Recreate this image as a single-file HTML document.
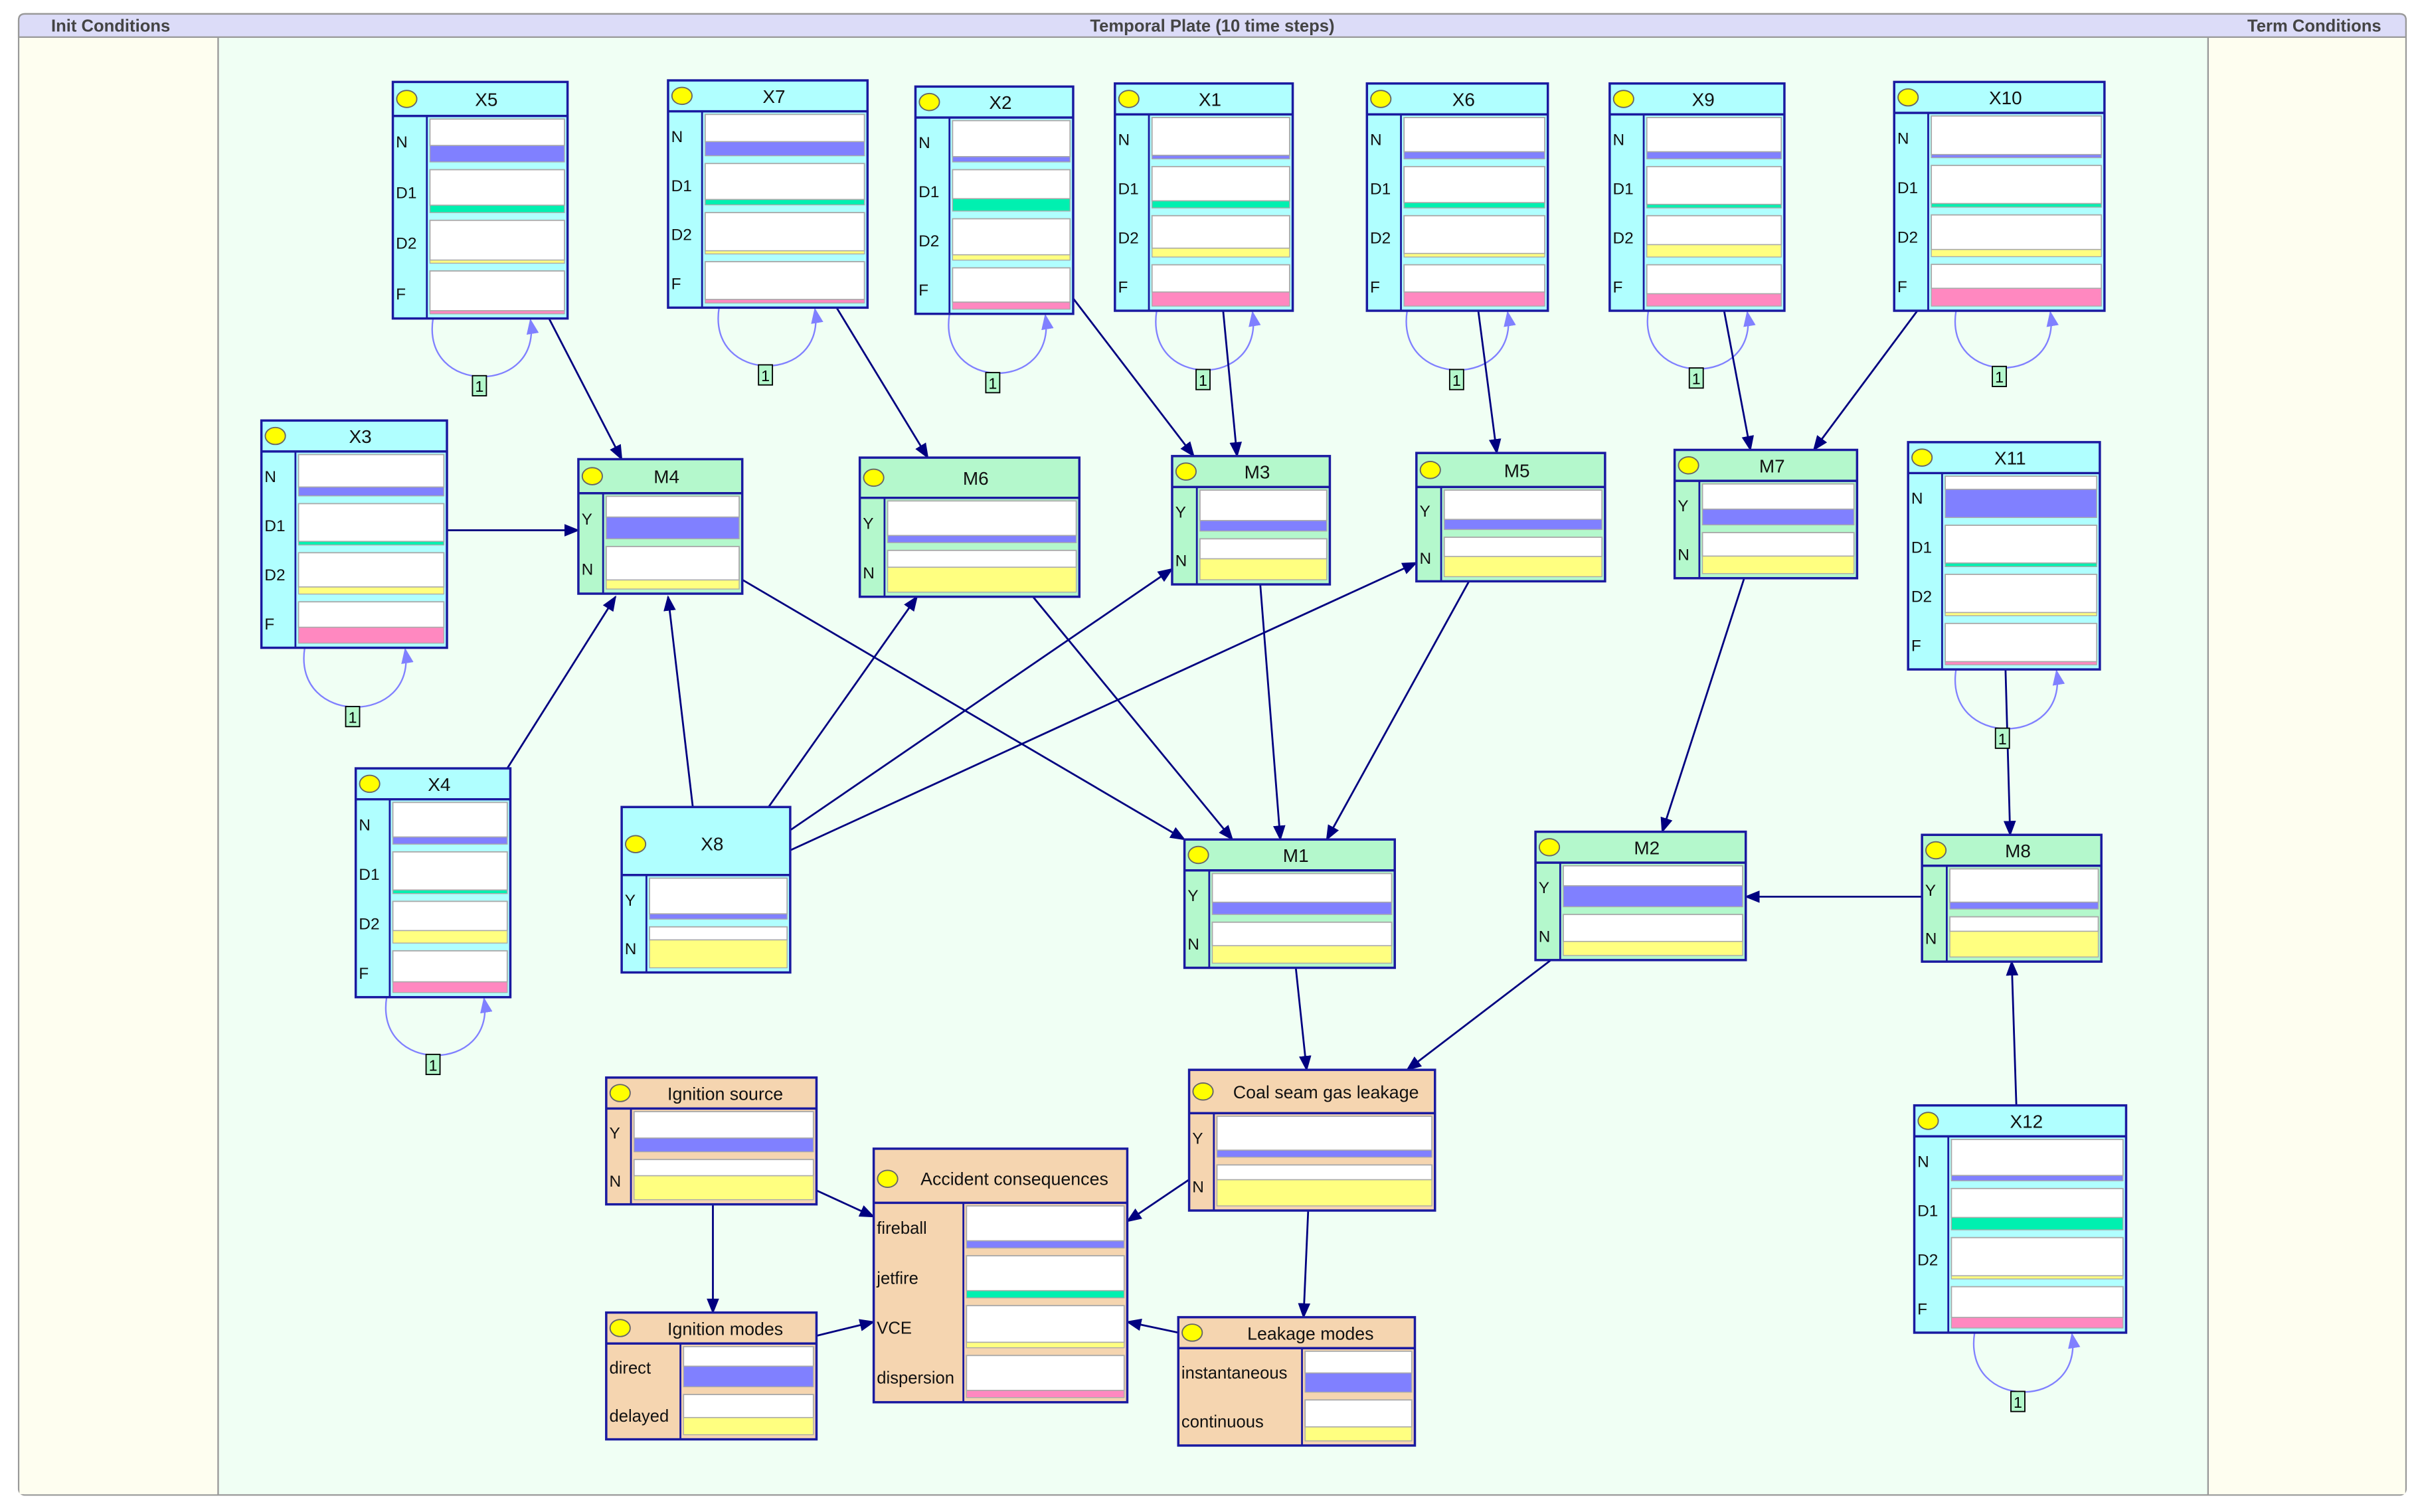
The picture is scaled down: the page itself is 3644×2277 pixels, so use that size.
<!DOCTYPE html>
<html><head><meta charset="utf-8"><style>html,body{margin:0;padding:0;background:#fff}svg{display:block}</style></head>
<body>
<svg id="s" xmlns="http://www.w3.org/2000/svg" width="3644" height="2277" viewBox="0 0 1565 978" font-family="Liberation Sans, sans-serif">
<defs>
<marker id="a" markerWidth="10" markerHeight="10" refX="9" refY="5" orient="auto" markerUnits="userSpaceOnUse"><path d="M0,1 L10,5 L0,9 z" fill="#000080"/></marker>
<marker id="b" markerWidth="10" markerHeight="10" refX="9" refY="5" orient="auto" markerUnits="userSpaceOnUse"><path d="M0,1 L10,5 L0,9 z" fill="#8080ff"/></marker>
</defs>
<rect x="0" y="0" width="1565" height="978" fill="#fff"/>
<rect x="12" y="9" width="1544" height="958" rx="4" fill="#f0fff4" stroke="#999" stroke-width="1"/>
<rect x="12.5" y="24" width="128.5" height="942.5" fill="#fefef0"/>
<rect x="1428" y="24" width="127.5" height="942.5" fill="#fefef0"/>
<line x1="141" y1="24" x2="141" y2="967" stroke="#999"/>
<line x1="1428" y1="24" x2="1428" y2="967" stroke="#999"/>
<path d="M12,24 L12,13 Q12,9 16,9 L1552,9 Q1556,9 1556,13 L1556,24 z" fill="#dcdcf8" stroke="#999"/>
<text x="33" y="20.5" font-size="11" font-weight="bold" fill="#444">Init Conditions</text>
<text x="784" y="20.5" font-size="11" font-weight="bold" fill="#444" text-anchor="middle">Temporal Plate (10 time steps)</text>
<text x="1540" y="20.5" font-size="11" font-weight="bold" fill="#444" text-anchor="end">Term Conditions</text>
<g id="e"></g><g id="n"></g>
</svg>
<script>
const NS="http://www.w3.org/2000/svg";
function el(p,t,a,txt){const e=document.createElementNS(NS,t);for(const k in a)e.setAttribute(k,a[k]);if(txt!==undefined)e.textContent=txt;p.appendChild(e);return e;}
const E=document.getElementById('e'),N=document.getElementById('n');
const C={N:'#8080ff',D1:'#00f0b0',D2:'#ffff80',F:'#ff88c0'};
const cyan=['#b0ffff','#b0ffff'],green=['#b4f8cc','#b4f8cc'],org=['#f5d5b0','#f5d5b0'];
function xs(v){return [['N',v[0],C.N],['D1',v[1],C.D1],['D2',v[2],C.D2],['F',v[3],C.F]];}
function yn(a,b){return [['Y',a,C.N],['N',b,C.D2]];}
const nodes=[
['X5',254,53,113,153,cyan,22,22,xs([.45,.2,.05,.02])],
['X7',432,52,129,147,cyan,20,22,xs([.4,.15,.03,.1])],
['X2',592,56,102,147,cyan,20,22,xs([.15,.35,.15,.2])],
['X1',721,54,115,147,cyan,20,22,xs([.1,.2,.25,.4])],
['X6',884,54,117,147,cyan,20,22,xs([.2,.15,.1,.4])],
['X9',1041,54,113,147,cyan,20,22,xs([.2,.1,.35,.35])],
['X10',1225,53,136,148,cyan,20,22,xs([.05,.1,.2,.5])],
['X3',169,272,120,147,cyan,20,22,xs([.25,.1,.2,.45])],
['X4',230,497,100,148,cyan,20,22,xs([.2,.1,.35,.3])],
['X11',1234,286,124,147,cyan,20,22,xs([.8,.1,.05,.02])],
['X12',1238,715,137,147,cyan,20,22,xs([.15,.35,.05,.3])],
['M4',374,297,106,87,green,22,16,yn(.6,.25)],
['M6',556,296,142,90,green,26,16,yn(.2,.7)],
['M3',758,295,102,83,green,20,16,yn(.3,.6)],
['M5',916,293,122,83,green,22,16,yn(.3,.6)],
['M7',1083,291,118,83,green,20,16,yn(.45,.5)],
['X8',402,522,109,107,cyan,44,16,yn(.15,.8)],
['M1',766,543,136,83,green,20,16,yn(.35,.5)],
['M2',993,538,136,83,green,20,16,yn(.6,.4)],
['M8',1243,540,116,82,green,20,16,yn(.2,.75)],
['Ignition source',392,697,136,82,org,20,16,yn(.4,.7)],
['Coal seam gas leakage',769,692,159,91,org,28,16,yn(.2,.75)],
['Accident consequences',565,743,164,164,org,35,58,[['fireball',.2,C.N],['jetfire',.2,C.D1],['VCE',.15,C.D2],['dispersion',.2,C.F]]],
['Ignition modes',392,849,136,82,org,20,48,[['direct',.6,C.N],['delayed',.5,C.D2]]],
['Leakage modes',762,852,153,83,org,20,80,[['instantaneous',.55,C.N],['continuous',.4,C.D2]]]
];
const loops=[[280,343,206,310,250],[465,527,199,495,243],[614,676,203,642,248],[748,810,201,778,246],[910,975,201,942,246],[1066,1130,201,1097,245],[1265,1326,201,1293,244],[197,262,419,228,464],[250,313,645,280,689],[1265,1330,433,1295,478],[1277,1340,862,1305,907]];
for(const [x1,x2,b,lx,ly] of loops){
 el(E,'path',{d:`M${x1},${b} C${x1-8},${ly+6} ${x2+8},${ly+6} ${x2},${b+1}`,fill:'none',stroke:'#8080ff','stroke-width':1,'marker-end':'url(#b)'});
}
const edges=[[355,206,402,297],[541,199,600,296],[694,193,772,295],[791,201,800,295],[956,201,968,293],[1115,201,1132,291],[1240,201,1173,291],[289,343,374,343],[328,497,398,386],[448,522,432,386],[497,522,593,386],[511,537,758,368],[511,550,916,364],[480,375,766,543],[668,386,797,543],[815,378,828,543],[950,376,858,543],[1128,374,1075,538],[1297,433,1300,540],[1243,580,1129,580],[1304,715,1301,622],[838,626,845,692],[1003,621,910,692],[528,770,565,787],[769,763,729,790],[461,779,461,849],[846,783,843,852],[528,864,565,855],[762,862,729,855]];
for(const [a,b,c,d] of edges)el(E,'line',{x1:a,y1:b,x2:c,y2:d,stroke:'#000080','stroke-width':1.2,'marker-end':'url(#a)'});
for(const [lx1,lx2,b,lx,ly] of loops){el(E,'rect',{x:lx-4.5,y:ly-7,width:9,height:13,fill:'#b4f8cc',stroke:'#000','stroke-width':.8});el(E,'text',{x:lx,y:ly+3.5,'font-size':10,'text-anchor':'middle'},'1');}
for(const [t,x,y,w,h,col,hh,lw,st] of nodes){
 const g=el(N,'g',{});
 el(g,'rect',{x,y,width:w,height:h,fill:col[0],stroke:'#1a1aa0','stroke-width':1.5});
 el(g,'line',{x1:x,y1:y+hh,x2:x+w,y2:y+hh,stroke:'#1a1aa0','stroke-width':1.5});
 el(g,'line',{x1:x+lw,y1:y+hh,x2:x+lw,y2:y+h,stroke:'#1a1aa0','stroke-width':1.2});
 el(g,'ellipse',{cx:x+9,cy:y+(hh>30?hh/2+2:hh/2),rx:6.5,ry:5.5,fill:'#ffff00',stroke:'#666','stroke-width':.8});
 const tx=t.length>4?x+18+(w-18)/2:x+w/2+4;
 el(g,'text',{x:tx,y:y+(hh>30?hh/2+6:hh/2+4.5),'font-size':t.length>4?11.5:12,'text-anchor':'middle',fill:'#111'},t);
 const rh=(h-hh)/st.length;
 st.forEach(([lab,v,c],i)=>{
  const ry=y+hh+i*rh, bx=x+lw+2, bw=w-lw-4, ih=rh-5;
  const bh=Math.max(2,v*ih*0.85), wh=ih-bh;
  el(g,'rect',{x:bx,y:ry+2,width:bw,height:wh,fill:'#fff',stroke:'#aaa','stroke-width':.8});
  el(g,'rect',{x:bx,y:ry+2+wh,width:bw,height:bh,fill:c,stroke:'#aaa','stroke-width':.6});
  el(g,'text',{x:x+2,y:ry+rh/2+4,'font-size':lw>30?11:10.5,fill:'#111'},lab);
 });
}
</script>
</body></html>
